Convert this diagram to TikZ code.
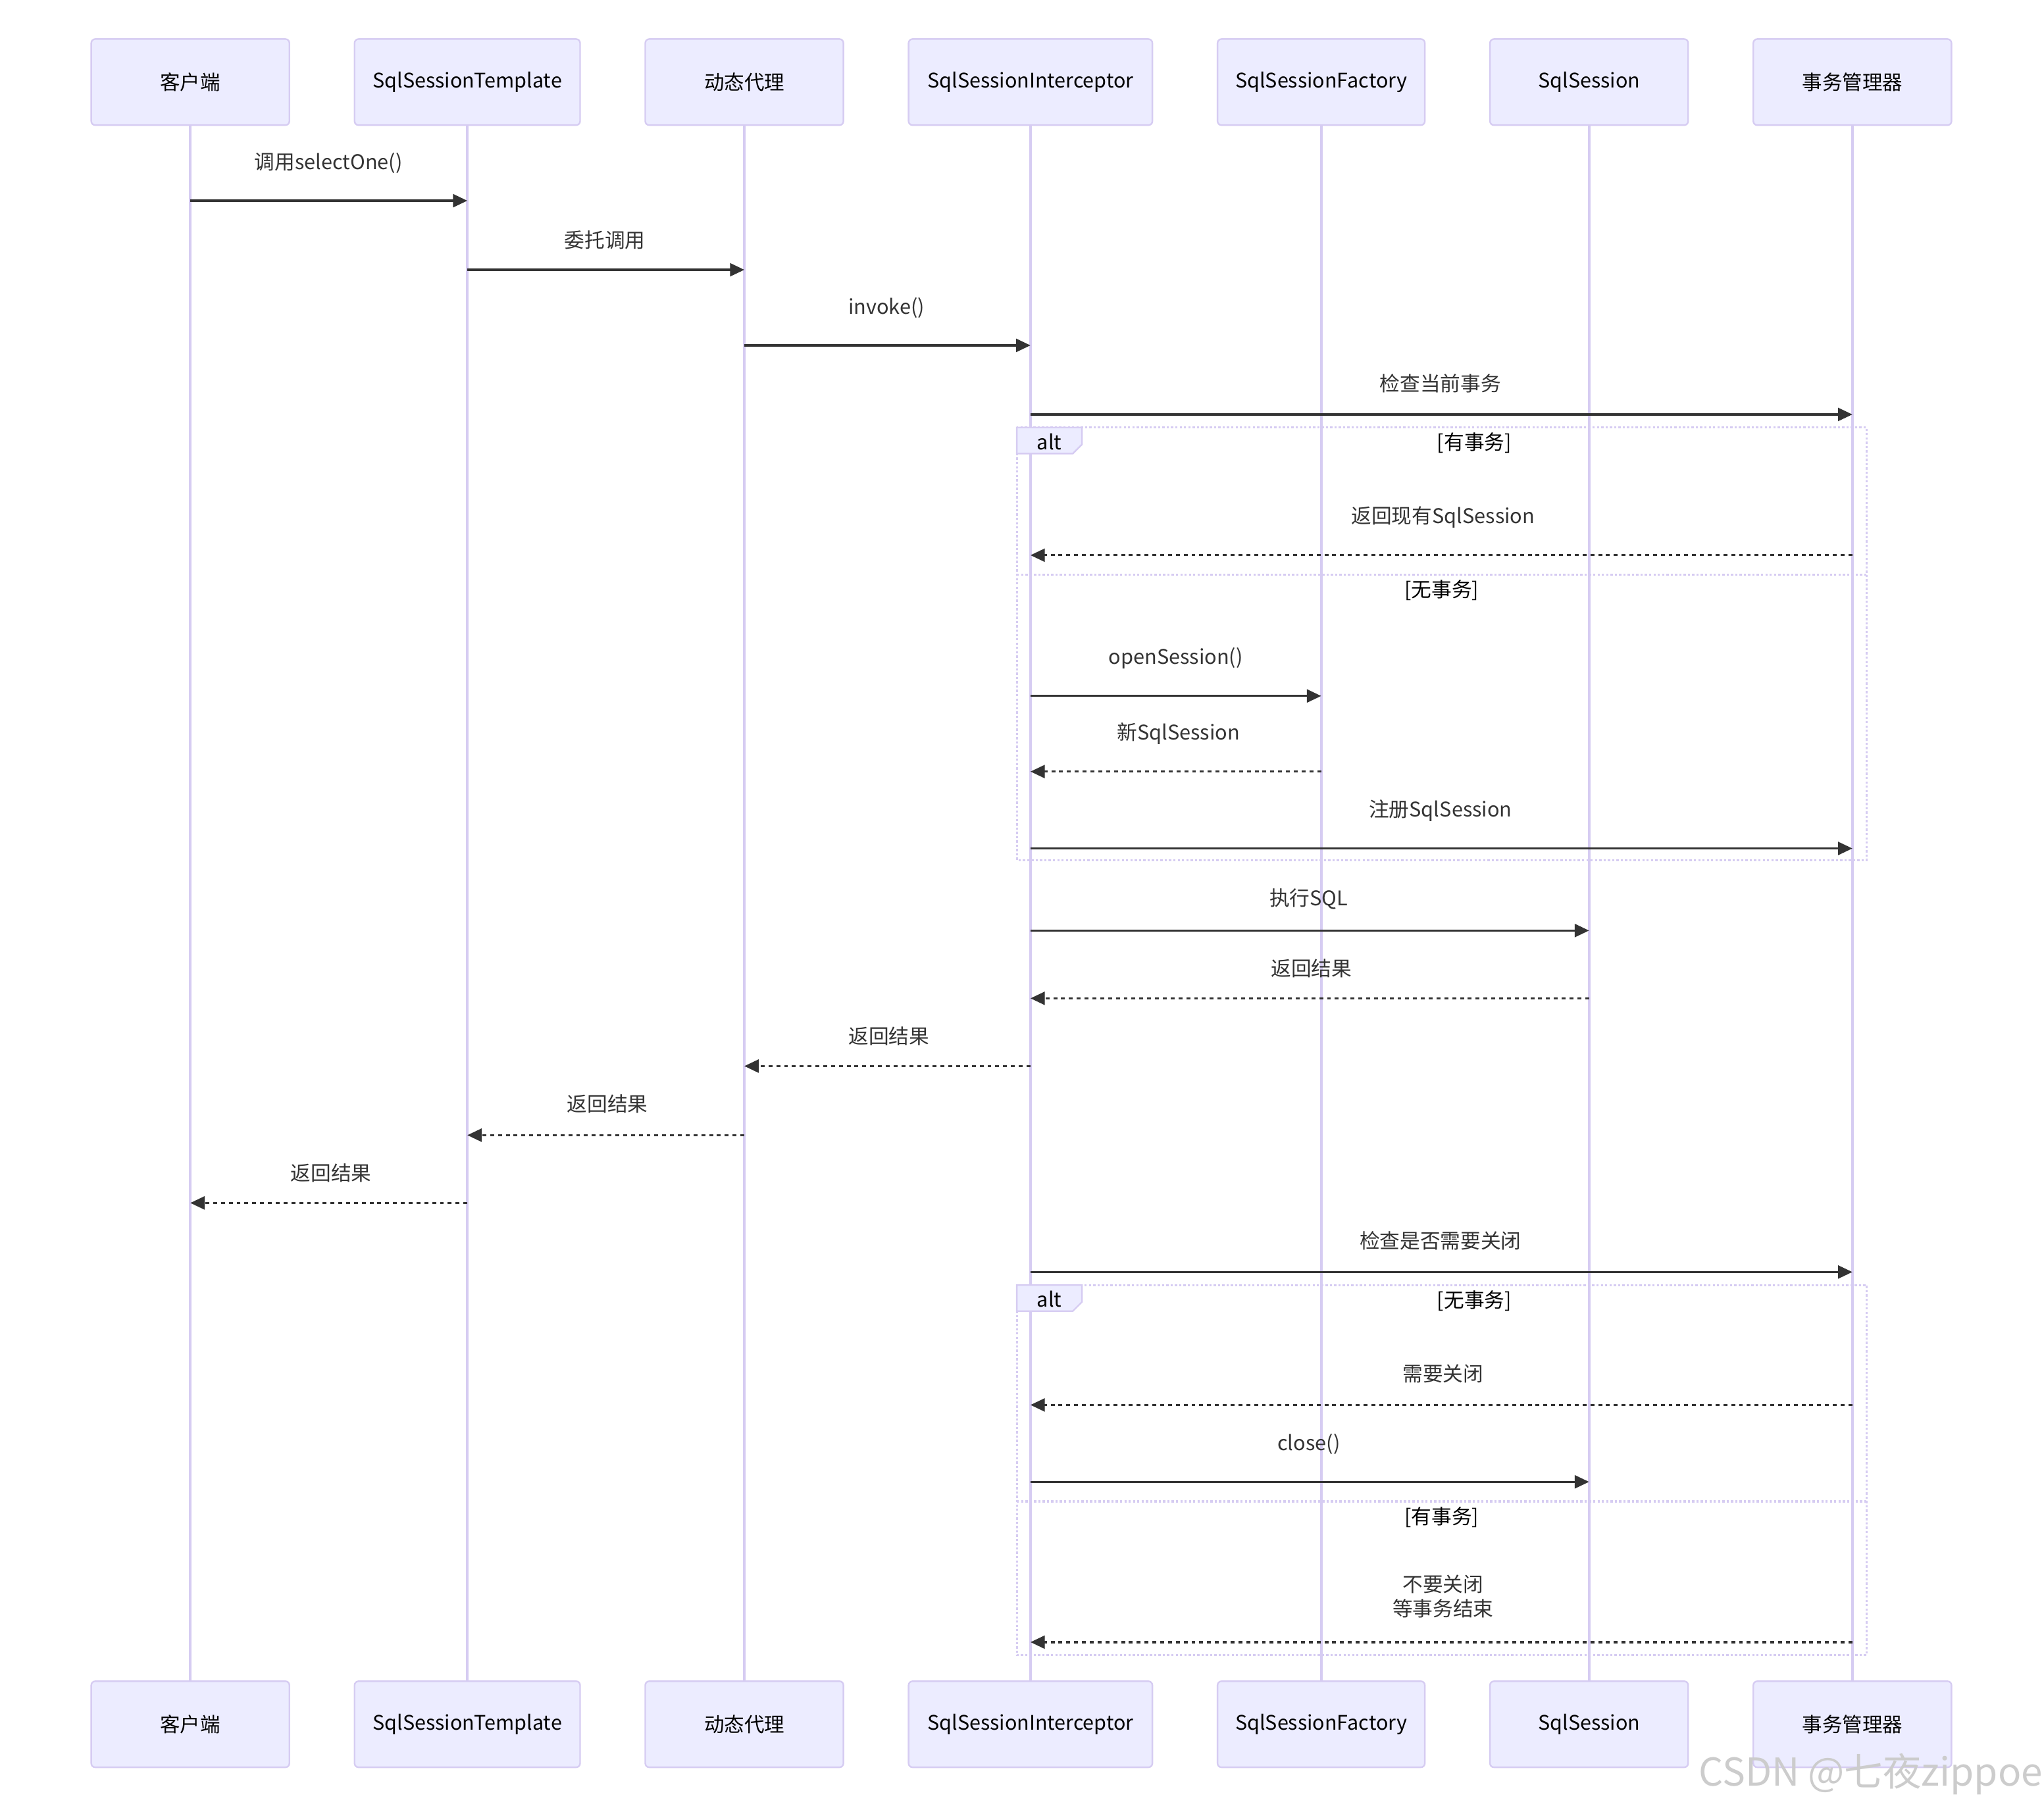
\documentclass[tikz,border=0pt]{standalone}
\usepackage{fontspec}
\setmainfont{Noto Sans CJK SC}
\usetikzlibrary{arrows.meta}
\definecolor{actfill}{HTML}{ECECFF}
\definecolor{actline}{HTML}{D6CCF2}
\definecolor{msgc}{HTML}{333333}
\tikzset{
  actorbox/.style={draw=actline, fill=actfill, line width=1.2pt, rounded corners=3pt,
    minimum height=66pt, inner sep=0pt, font=\fontsize{15.4}{19}\selectfont, text=black},
  lifeline/.style={draw=actline, line width=2pt},
  msgsolid/.style={draw=msgc, line width=1.6pt, -{Triangle[length=11pt,width=10pt]}},
  msgdash/.style={draw=msgc, line width=1.6pt, dash pattern=on 3pt off 3pt, -{Triangle[length=11pt,width=10pt]}},
  msglabel/.style={font=\fontsize{15.5}{19}\selectfont, text=msgc, inner sep=0pt, align=center},
  altframe/.style={draw=actline, line width=1.6pt, dash pattern=on 1.7pt off 1.6pt},
  alttab/.style={draw=actline, fill=actfill, line width=1.2pt},
  condlabel/.style={font=\fontsize{15.5}{19}\selectfont, text=black, inner sep=0pt},
}
\begin{document}
\begin{tikzpicture}[x=1pt,y=-1pt]
\useasboundingbox[fill=white] (0,0) rectangle (1568,1387);
% top actors
\node[actorbox, minimum width=152pt] (a1) at (146,63) {客户端};
\node[actorbox, minimum width=173pt] (a2) at (358.5,63) {SqlSessionTemplate};
\node[actorbox, minimum width=152pt] (a3) at (571,63) {动态代理};
\node[actorbox, minimum width=187pt] (a4) at (790.5,63) {SqlSessionInterceptor};
\node[actorbox, minimum width=159pt] (a5) at (1013.5,63) {SqlSessionFactory};
\node[actorbox, minimum width=152pt] (a6) at (1219,63) {SqlSession};
\node[actorbox, minimum width=152pt] (a7) at (1421,63) {事务管理器};
% bottom actors
\node[actorbox, minimum width=152pt] (b1) at (146,1323) {客户端};
\node[actorbox, minimum width=173pt] (b2) at (358.5,1323) {SqlSessionTemplate};
\node[actorbox, minimum width=152pt] (b3) at (571,1323) {动态代理};
\node[actorbox, minimum width=187pt] (b4) at (790.5,1323) {SqlSessionInterceptor};
\node[actorbox, minimum width=159pt] (b5) at (1013.5,1323) {SqlSessionFactory};
\node[actorbox, minimum width=152pt] (b6) at (1219,1323) {SqlSession};
\node[actorbox, minimum width=152pt] (b7) at (1421,1323) {事务管理器};
% lifelines
\foreach \i in {1,...,7} { \draw[lifeline] (a\i.south) -- (b\i.north); }

% alt frames
\draw[altframe] (780,328) rectangle (1432,660);
\draw[altframe] (780,441) -- (1432,441);
\draw[alttab] (780,328) -- (830,328) -- (830,341) -- (823,348) -- (780,348) -- cycle;
\node[condlabel] (alt1) at (805,339) {alt};
\node[condlabel] (c1) at (1131,340) {[有事务]};
\node[condlabel] (c2) at (1106,453) {[无事务]};

\draw[altframe] (780,986) rectangle (1432,1270);
\draw[altframe] (780,1152) -- (1432,1152);
\draw[alttab] (780,986) -- (830,986) -- (830,999) -- (823,1006) -- (780,1006) -- cycle;
\node[condlabel] (alt2) at (805,997) {alt};
\node[condlabel] (c3) at (1131,998) {[无事务]};
\node[condlabel] (c4) at (1106,1164) {[有事务]};

% messages
\draw[msgsolid] (a1 |- 0,154) -- (a2 |- 0,154);
\node[msglabel] (m1) at (252,125) {调用selectOne()};
\draw[msgsolid] (a2 |- 0,207) -- (a3 |- 0,207);
\node[msglabel] (m2) at (464,184) {委托调用};
\draw[msgsolid] (a3 |- 0,265) -- (a4 |- 0,265);
\node[msglabel] (m3) at (680,236) {invoke()};
\draw[msgsolid] (a4 |- 0,318) -- (a7 |- 0,318);
\node[msglabel] (m4) at (1105,294) {检查当前事务};
\draw[msgdash] (a7 |- 0,426) -- (a4 |- 0,426);
\node[msglabel] (m5) at (1107,397) {返回现有SqlSession};
\draw[msgsolid] (a4 |- 0,534) -- (a5 |- 0,534);
\node[msglabel] (m6) at (902,505) {openSession()};
\draw[msgdash] (a5 |- 0,592) -- (a4 |- 0,592);
\node[msglabel] (m7) at (904,563) {新SqlSession};
\draw[msgsolid] (a4 |- 0,651) -- (a7 |- 0,651);
\node[msglabel] (m8) at (1105,622) {注册SqlSession};
\draw[msgsolid] (a4 |- 0,714) -- (a6 |- 0,714);
\node[msglabel] (m9) at (1004,690) {执行SQL};
\draw[msgdash] (a6 |- 0,766) -- (a4 |- 0,766);
\node[msglabel] (m10) at (1006,743) {返回结果};
\draw[msgdash] (a4 |- 0,818) -- (a3 |- 0,818);
\node[msglabel] (m11) at (682,795) {返回结果};
\draw[msgdash] (a3 |- 0,871) -- (a2 |- 0,871);
\node[msglabel] (m12) at (466,847) {返回结果};
\draw[msgdash] (a2 |- 0,923) -- (a1 |- 0,923);
\node[msglabel] (m13) at (254,900) {返回结果};
\draw[msgsolid] (a4 |- 0,976) -- (a7 |- 0,976);
\node[msglabel] (m14) at (1105,952) {检查是否需要关闭};
\draw[msgdash] (a7 |- 0,1078) -- (a4 |- 0,1078);
\node[msglabel] (m15) at (1107,1054) {需要关闭};
\draw[msgsolid] (a4 |- 0,1137) -- (a6 |- 0,1137);
\node[msglabel] (m16) at (1004,1108) {close()};
\draw[msgdash] (a7 |- 0,1260) -- (a4 |- 0,1260);
\node[msglabel] (m17) at (1107,1225) {不要关闭\\等事务结束};

% watermark
\node[anchor=west, inner sep=0pt, font=\fontsize{29.5}{31}\selectfont, text=black!20] (wm) at (1303,1361) {CSDN @七夜zippoe};
\end{tikzpicture}
\end{document}
